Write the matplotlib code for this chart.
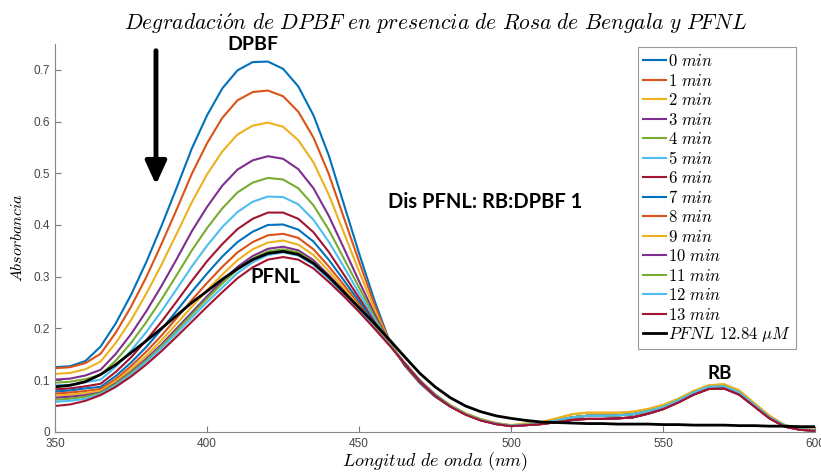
import numpy as np
import matplotlib
matplotlib.use("Agg")
import matplotlib.pyplot as plt

plt.rcParams['mathtext.fontset'] = 'cm'

# wavelength grid (nm), 5 nm steps
wl = list(range(350, 605, 5))

# DPBF band 350-500 nm, one list per scan
abs_0 = [.125, .127, .137, .165, .210, .265, .328, .398, .472, .548, .612, .664, .699, .715, .716, .702,
         .668, .612, .535, .440, .345, .255, .175, .128, .094, .068, .049, .034, .023, .016, .012]
abs_1 = [.123, .125, .133, .151, .192, .242, .299, .363, .430, .499, .558, .607, .641, .657, .660, .649,
         .619, .569, .499, .414, .329, .247, .174, .129, .095, .069, .049, .034, .023, .016, .012]
abs_2 = [.112, .114, .121, .136, .172, .216, .267, .323, .383, .444, .498, .542, .575, .592, .598, .590,
         .564, .521, .459, .385, .310, .238, .173, .131, .097, .071, .051, .035, .024, .017, .013]
abs_3 = [.101, .103, .109, .120, .151, .189, .233, .282, .334, .388, .435, .476, .507, .525, .533, .528,
         .508, .471, .418, .355, .291, .229, .172, .130, .096, .069, .049, .034, .023, .016, .012]
abs_4 = [.095, .097, .102, .110, .138, .172, .212, .256, .303, .351, .394, .432, .463, .482, .491, .488,
         .471, .438, .391, .335, .279, .223, .172, .131, .097, .070, .050, .035, .023, .016, .012]
abs_5 = [.090, .091, .096, .101, .126, .157, .193, .233, .276, .320, .360, .396, .425, .445, .455, .454,
         .440, .410, .368, .319, .268, .218, .171, .131, .097, .071, .050, .035, .024, .016, .012]
abs_6 = [.082, .084, .088, .093, .116, .144, .177, .213, .252, .292, .330, .363, .392, .412, .424, .424,
         .412, .386, .348, .304, .259, .213, .170, .130, .097, .070, .049, .034, .022, .015, .011]
abs_7 = [.078, .080, .084, .087, .108, .134, .164, .198, .234, .271, .306, .339, .367, .387, .400, .401,
         .391, .368, .333, .293, .252, .210, .170, .132, .098, .071, .050, .035, .023, .016, .012]
abs_8 = [.074, .076, .079, .083, .102, .127, .155, .186, .220, .255, .288, .319, .347, .367, .380, .383,
         .375, .353, .320, .284, .246, .207, .170, .133, .099, .072, .051, .035, .024, .016, .012]
abs_9 = [.070, .072, .075, .079, .098, .121, .147, .177, .209, .242, .274, .304, .332, .353, .366, .370,
         .362, .342, .311, .277, .242, .205, .170, .134, .100, .073, .052, .036, .025, .017, .013]
abs_10 = [.066, .068, .071, .076, .094, .116, .141, .169, .200, .231, .262, .292, .319, .340, .354, .358,
          .351, .332, .303, .272, .238, .203, .169, .133, .099, .071, .050, .034, .023, .015, .011]
abs_11 = [.062, .064, .068, .075, .092, .114, .138, .166, .196, .227, .258, .287, .314, .335, .349, .353,
          .347, .328, .300, .269, .237, .202, .169, .133, .099, .072, .051, .035, .024, .016, .012]
abs_12 = [.058, .060, .064, .073, .090, .111, .135, .162, .191, .221, .251, .279, .307, .328, .342, .347,
          .341, .323, .296, .266, .235, .201, .168, .133, .099, .072, .050, .034, .023, .016, .012]
abs_13 = [.050, .053, .060, .071, .087, .107, .130, .156, .184, .213, .242, .270, .297, .318, .333, .338,
          .333, .316, .290, .262, .232, .200, .167, .132, .098, .070, .049, .033, .022, .015, .011]
abs_pfnl = [.087, .090, .097, .111, .130, .153, .176, .200, .225, .250, .272, .295, .315, .333, .345, .349,
            .343, .326, .300, .270, .240, .210, .178, .145, .113, .087, .066, .050, .039, .031, .026]

# Rose Bengal band 505-600 nm
rb_hi = [.016, .019, .026, .034, .037, .037, .037, .039, .044, .052, .064, .079, .090, .092, .080, .055,
         .031, .013, .006, .004]
rb_mid = [.014, .017, .022, .028, .031, .031, .032, .034, .040, .048, .061, .076, .087, .088, .076, .052,
          .028, .012, .005, .003]
rb_lo = [.013, .015, .019, .023, .025, .025, .026, .028, .035, .044, .057, .072, .083, .084, .072, .049,
         .026, .010, .004, .002]
rb_pfnl = [.022, .019, .018, .017, .016, .016, .015, .015, .015, .014, .014, .013, .013, .013, .012, .012,
           .011, .011, .010, .010]

scans = [abs_0, abs_1, abs_2, abs_3, abs_4, abs_5, abs_6, abs_7, abs_8, abs_9, abs_10, abs_11, abs_12, abs_13]
tails = [rb_mid, rb_mid, rb_hi, rb_lo, rb_mid, rb_mid, rb_lo, rb_mid, rb_mid, rb_hi, rb_lo, rb_mid, rb_mid, rb_lo]
labels = [r'$%d\ min$' % i for i in range(14)]

colors = ['#0072BD', '#D95319', '#EDB120', '#7E2F8E', '#77AC30', '#4DBEEE', '#A2142F']

fig = plt.figure(figsize=(8.21, 4.73), dpi=100)
ax = fig.add_axes([0.067, 0.087, 0.926, 0.82])

for i, (band, tail) in enumerate(zip(scans, tails)):
    ax.plot(wl, band + tail, color=colors[i % 7], lw=1.5, label=labels[i])
ax.plot(wl, abs_pfnl + rb_pfnl, color='k', lw=2, label=r'$PFNL\ 12.84\ \mu M$')

ax.set_xlim(350, 600)
ax.set_ylim(0, 0.75)
ax.set_xticks([350, 400, 450, 500, 550, 600])
ax.set_yticks([0, 0.1, 0.2, 0.3, 0.4, 0.5, 0.6, 0.7])
ax.set_yticklabels(['0', '0.1', '0.2', '0.3', '0.4', '0.5', '0.6', '0.7'])
ax.tick_params(direction='in', length=4, color='#777777', labelcolor='#444444', labelsize=8.5)
ax.tick_params(axis='x', pad=4.5)
for lab in ax.get_xticklabels() + ax.get_yticklabels():
    lab.set_fontfamily('Liberation Sans')
for s in ['top', 'right']:
    ax.spines[s].set_visible(False)
for s in ['left', 'bottom']:
    ax.spines[s].set_color('#888888')

ax.set_title(r'$Degradaci\acute{o}n\ de\ DPBF\ en\ presencia\ de\ Rosa\ de\ Bengala\ y\ PFNL$',
             fontsize=15.5, pad=10)
ax.set_xlabel(r'$Longitud\ de\ onda\ (nm)$', fontsize=13, labelpad=0)
ax.set_ylabel(r'$Absorbancia$', fontsize=11.5, labelpad=6)

leg = ax.legend(loc='upper right', bbox_to_anchor=(0.975, 0.992), borderaxespad=0, fontsize=12,
                handlelength=1.4, handletextpad=0.1, labelspacing=0.09, borderpad=0.3, fancybox=False,
                framealpha=1, edgecolor='#999999')
leg.get_frame().set_linewidth(0.8)

# annotations
ax.annotate('', xy=(383.2, 0.478), xytext=(383.2, 0.737),
            arrowprops=dict(arrowstyle='-|>,head_width=0.32,head_length=0.7', lw=3.5, color='k',
                            mutation_scale=20, shrinkA=0, shrinkB=0))
bold = dict(fontfamily='Lato', fontweight='bold', ha='center', va='center', color='k')
ax.text(415.1, 0.749, 'DPBF', fontsize=14, clip_on=False, **bold)
ax.text(422.4, 0.299, 'PFNL', fontsize=14.5, **bold)
ax.text(568.5, 0.113, 'RB', fontsize=13.5, **bold)
ax.text(491.4, 0.444, 'Dis PFNL: RB:DPBF 1', fontsize=14.5, **bold)

fig.savefig('out.png', dpi=100)
